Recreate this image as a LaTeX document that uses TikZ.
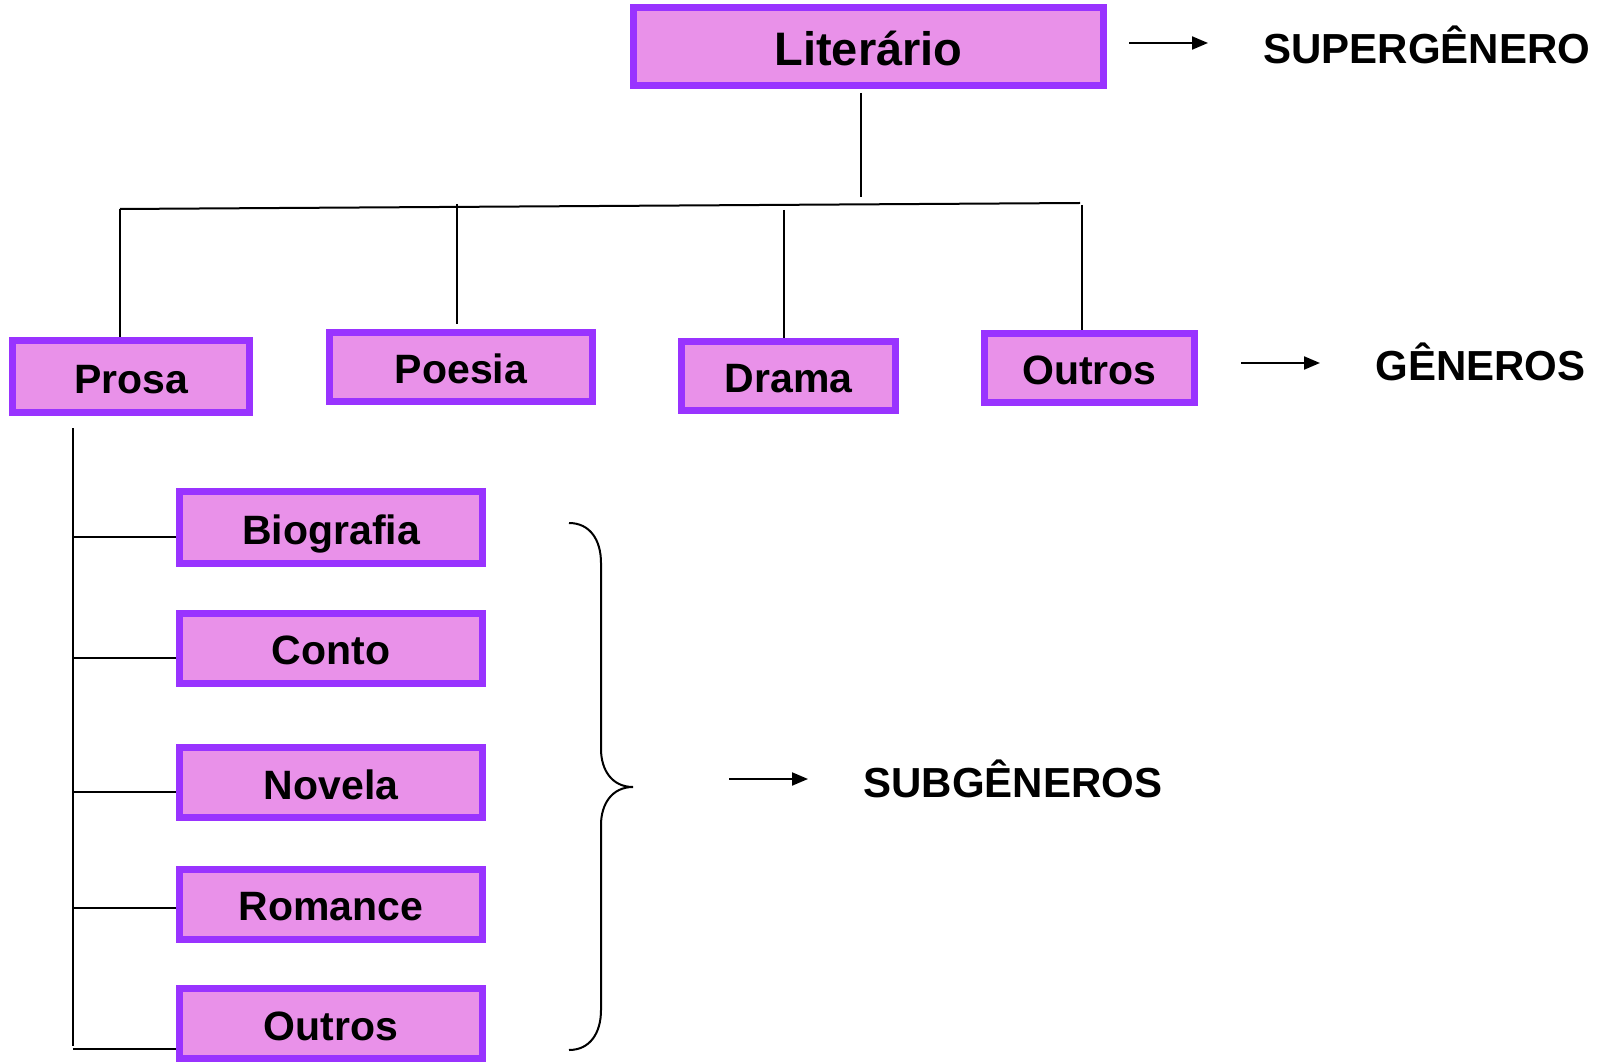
\documentclass[tikz,border=0pt]{standalone}
\usepackage{fontspec}
\setmainfont{Liberation Sans}
\usetikzlibrary{arrows.meta}
\definecolor{boxfill}{HTML}{E991E9}
\definecolor{boxline}{HTML}{9933FF}
\begin{document}
\begin{tikzpicture}[x=0.5pt,y=-0.5pt,
  gbox/.style={draw=boxline,fill=boxfill,line width=3.5pt,inner sep=0pt,
    font=\bfseries\fontsize{20.5}{24}\selectfont,text height=16.7pt,text depth=0pt,
    minimum height=34.5pt},
  sbox/.style={gbox,minimum width=151.5pt,minimum height=35pt},
  lab/.style={inner sep=0pt,anchor=base west,font=\bfseries\fontsize{21}{25}\selectfont},
  ramo/.style={line width=1pt},
  seta/.style={line width=1pt,-{Triangle[length=8pt,width=6.5pt]}}]

\useasboundingbox (0,0) rectangle (1598,1063);

\node[gbox,minimum width=235pt,minimum height=39pt,text height=18.8pt,
  font=\bfseries\fontsize{23.5}{28}\selectfont] (lit) at (868.5,46.5) {Literário};

\node[gbox,minimum width=118.5pt,minimum height=36pt] (prosa) at (131,376.5) {Prosa};
\node[gbox,minimum width=131.5pt] (poesia) at (461,367) {Poesia};
\node[gbox,minimum width=107pt] (drama) at (788.5,376) {Drama};
\node[gbox,minimum width=105pt] (outrosg) at (1089.5,368) {Outros};

\node[sbox,minimum height=36pt] (bio) at (331,527.5) {Biografia};
\node[sbox] (conto) at (331,648) {Conto};
\node[sbox] (novela) at (331,782.5) {Novela};
\node[sbox] (romance) at (331,904) {Romance};
\node[sbox] (outross) at (331,1023.5) {Outros};

\coordinate (hl) at (120,209);
\coordinate (hr) at (1080,203);
\coordinate (stem) at (861,197);
\coordinate (dpoe) at (456.5,204);
\coordinate (ddra) at (784,210);
\coordinate (dout) at (1082,205);

\draw[ramo,shorten <=2pt] (stem |- lit.south) -- (stem);
\draw[ramo] (hl) -- (hr);
\draw[ramo] (hl) -- (hl |- prosa.north);
\draw[ramo,shorten >=2.5pt] (dpoe) -- (dpoe |- poesia.north);
\draw[ramo] (ddra) -- (ddra |- drama.north);
\draw[ramo] (dout) -- (dout |- outrosg.north);

\coordinate (pv) at (73,428);
\coordinate (pb) at (73,1046);
\draw[ramo] (pv) -- (pb);
\foreach \n/\d in {bio/9.5,conto/10,novela/9.5,romance/4,outross/25}{
  \path (\n.west) ++(0,\d) coordinate (r\n);
  \draw[ramo] (r\n -| pv) -- (r\n);
}

\draw[ramo] (569,523) .. controls (590,523) and (601,540) .. (601,563) -- (601,749)
  .. controls (601,770) and (612,787) .. (633,787)
  .. controls (612,787) and (601,804) .. (601,825) -- (601,1010)
  .. controls (601,1033) and (590,1050) .. (569,1050);

\node[lab] (sup) at (1263,64) {SUPERGÊNERO};
\node[lab] (gen) at (1375,380) {GÊNEROS};
\node[lab] (sub) at (863,797) {SUBGÊNEROS};

\coordinate (s1) at (1129,43);
\coordinate (e1) at (1208,43);
\coordinate (s2) at (1241,363);
\coordinate (e2) at (1320,363);
\coordinate (s3) at (729,779);
\coordinate (e3) at (808,779);
\draw[seta] (s1) -- (e1);
\draw[seta] (s2) -- (e2);
\draw[seta] (s3) -- (e3);

\end{tikzpicture}
\end{document}
